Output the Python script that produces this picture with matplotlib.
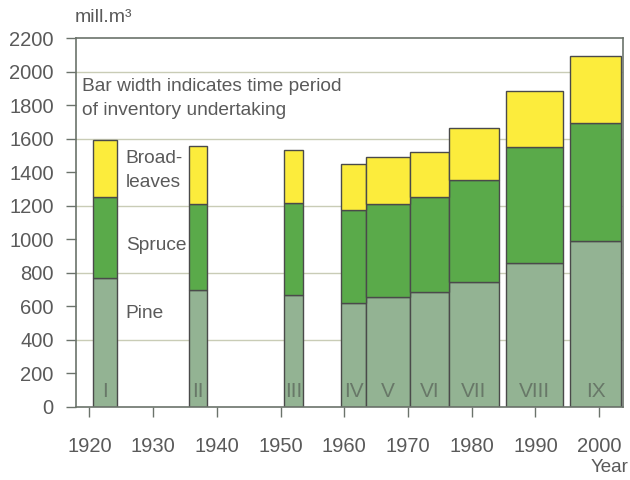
import matplotlib
matplotlib.use("Agg")
import matplotlib.pyplot as plt

numerals = ["I", "II", "III", "IV", "V", "VI", "VII", "VIII", "IX"]
period_start = [1920.5, 1935.6, 1950.5, 1959.5, 1963.4, 1970.3, 1976.4, 1985.4, 1995.5]
period_end = [1924.4, 1938.5, 1953.5, 1963.4, 1970.3, 1976.4, 1984.3, 1994.4, 2003.4]
pine = [770, 700, 670, 620, 655, 685, 745, 860, 990]
spruce = [485, 510, 550, 555, 555, 570, 610, 690, 705]
broadleaves = [340, 350, 315, 275, 280, 265, 310, 335, 400]
year_ticks = [1920, 1930, 1940, 1950, 1960, 1970, 1980, 1990, 2000]
value_ticks = list(range(0, 2201, 200))
grid_values = [400, 800, 1200, 1600, 2000]

plt.rcParams['font.family'] = ['Liberation Sans', 'DejaVu Sans']
text_col = "#5a5a5a"
edge_col = "#4a4a4a"
spine_col = "#6b736b"

fig = plt.figure(figsize=(6.3, 4.8), dpi=100)
ax = fig.add_axes([0.1206, 0.1527, 0.9894 - 0.1206, 0.9198 - 0.1527])

for g in grid_values:
    ax.axhline(g, color="#c9ccb6", lw=1.0, zorder=0)

widths = [e - s for s, e in zip(period_start, period_end)]
bottom2 = [p + s for p, s in zip(pine, spruce)]
ax.bar(period_start, pine, width=widths, align="edge", color="#93b393",
       edgecolor=edge_col, linewidth=1.0, zorder=2)
ax.bar(period_start, spruce, width=widths, bottom=pine, align="edge",
       color="#5aaa4a", edgecolor=edge_col, linewidth=1.0, zorder=2)
ax.bar(period_start, broadleaves, width=widths, bottom=bottom2, align="edge",
       color="#fcec3c", edgecolor=edge_col, linewidth=1.0, zorder=2)

for n, s, w in zip(numerals, period_start, widths):
    ax.text(s + w / 2, 88, n, ha="center", va="center", fontsize=15,
            color="#687868", zorder=3)

ax.set_xlim(1917.9, 2003.8)
ax.set_ylim(0, 2200)
ax.set_xticks(year_ticks)
ax.set_yticks(value_ticks)
ax.tick_params(axis="both", labelsize=14.5, colors=text_col, length=7,
               width=1.0, color=spine_col)
ax.tick_params(axis="x", pad=15)
ax.tick_params(axis="y", pad=9)
for sp in ax.spines.values():
    sp.set_color(spine_col)
    sp.set_linewidth(1.2)

ax.text(1918.8, 1965, "Bar width indicates time period\nof inventory undertaking",
        ha="left", va="top", fontsize=13.8, color=text_col, linespacing=1.55)
ax.text(1925.7, 1410, "Broad-\nleaves", ha="left", va="center", fontsize=13.8,
        color=text_col, linespacing=1.5)
ax.text(1925.7, 965, "Spruce", ha="left", va="center", fontsize=13.8, color=text_col)
ax.text(1925.7, 555, "Pine", ha="left", va="center", fontsize=13.8, color=text_col)

fig.text(75 / 630, 1 - 18 / 480, "mill.m³", ha="left", va="center",
         fontsize=14, color=text_col)
fig.text(628 / 630, 1 - 467 / 480, "Year", ha="right", va="center",
         fontsize=13.5, color=text_col)

fig.savefig("out.png", dpi=100, facecolor="white")
